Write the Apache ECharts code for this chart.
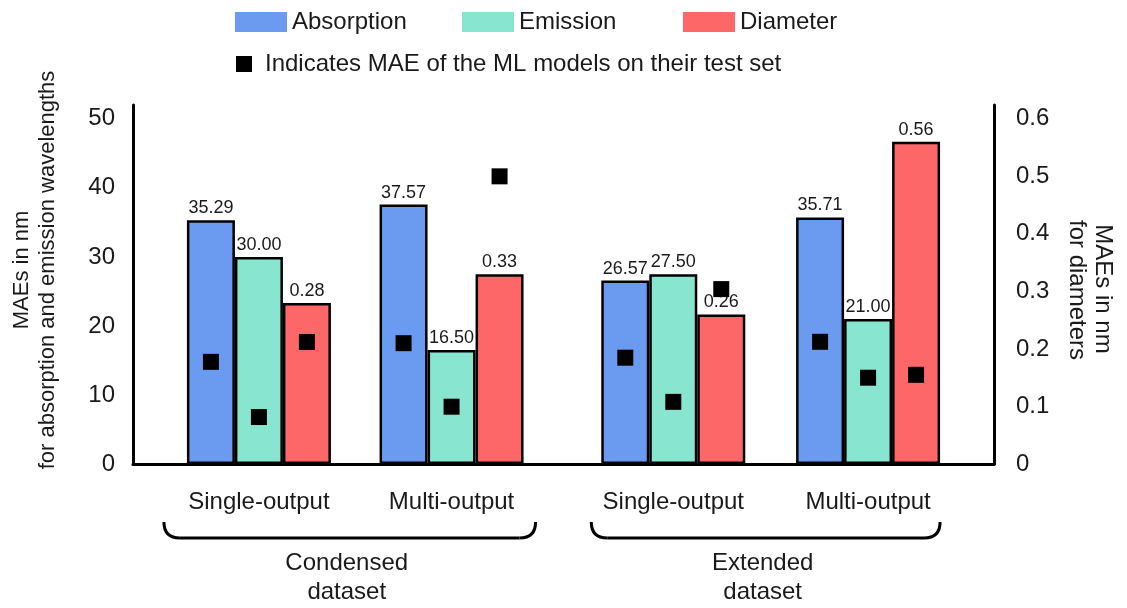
<!DOCTYPE html>
<html>
<head>
<meta charset="utf-8">
<script src="https://cdn.jsdelivr.net/npm/echarts@6/dist/echarts.min.js"></script>
<style>
  html, body { margin: 0; padding: 0; background: #fff; }
  #main { width: 1127px; height: 608px; }
</style>
</head>
<body>
<div id="main"></div>
<script>
// Model output setups (x-axis categories) and the dataset each pair belongs to
const setupNames = ['Single-output', 'Multi-output', 'Single-output', 'Multi-output'];
const datasetNames = ['Condensed\ndataset', 'Extended\ndataset'];
const datasetMembers = [[0, 1], [2, 3]];

// MAEs of the predictions (nm): wavelengths on the left axis, diameters on the right
const absorption = [35.29, 37.57, 26.57, 35.71];
const emission = [30.00, 16.50, 27.50, 21.00];
const diameter = [0.28, 0.33, 0.26, 0.56];

// MAEs of the ML models on their test set
const absorptionTest = [14.8, 17.5, 15.4, 17.7];
const emissionTest = [6.8, 8.3, 9.0, 12.5];
const diameterTest = [0.212, 0.50, 0.304, 0.155];

// Axis tick labels
const leftTicks = [0, 10, 20, 30, 40, 50];
const rightTicks = [0, 0.1, 0.2, 0.3, 0.4, 0.5, 0.6];

// Layout: where each group sits on the 0-4 x scale, bar width in px
const slotPos = [0.585, 1.48, 2.51, 3.415];
const BAR_W = 48;
const TEST_NAME = 'Indicates MAE of the ML models on their test set';

const FONT = '"Liberation Sans", Arial, sans-serif';
const INK = '#1a1a1a';
const COLORS = { Absorption: '#6b9bf0', Emission: '#88e5cf', Diameter: '#fe6767' };

const pairs = vals => vals.map((v, i) => [slotPos[i], v]);

function barSeries(name, vals, yIdx) {
  return {
    name, type: 'bar', yAxisIndex: yIdx,
    data: pairs(vals),
    barWidth: BAR_W, barGap: '0%',
    itemStyle: { color: COLORS[name], borderColor: '#000', borderWidth: 2.5 },
    label: {
      show: true, position: 'top', distance: 3,
      fontSize: 18, color: INK, fontFamily: FONT,
      formatter: p => p.value[1].toFixed(2)
    },
    z: 2
  };
}

function testSeries(vals, yIdx, offset) {
  return {
    name: TEST_NAME, type: 'scatter', yAxisIndex: yIdx,
    data: pairs(vals),
    symbol: 'rect', symbolSize: 16, symbolOffset: [offset, 0],
    itemStyle: { color: '#000', opacity: 1 },
    z: 5
  };
}

const legendBase = {
  icon: 'rect', itemWidth: 52, itemHeight: 20, padding: 0,
  itemStyle: { borderWidth: 0 },
  textStyle: { fontSize: 24, color: INK, fontFamily: FONT }
};

const axisLineStyle = { show: true, lineStyle: { color: '#000', width: 3 } };

const chart = echarts.init(document.getElementById('main'));
chart.setOption({
  animation: false,
  textStyle: { fontFamily: FONT },
  grid: { left: 133, right: 133, top: 105, bottom: 144 },
  legend: [
    Object.assign({}, legendBase, { data: ['Absorption'], left: 235, top: 10 }),
    Object.assign({}, legendBase, { data: ['Emission'], left: 462, top: 10 }),
    Object.assign({}, legendBase, { data: ['Diameter'], left: 683, top: 10 }),
    Object.assign({}, legendBase, {
      data: [TEST_NAME], left: 236, top: 52, itemWidth: 16, itemHeight: 16,
      itemStyle: { borderWidth: 0, opacity: 1 },
      textStyle: { fontSize: 24, color: INK, fontFamily: FONT, padding: [0, 0, 0, 8] }
    })
  ],
  xAxis: {
    type: 'value', min: 0, max: 4,
    axisLine: axisLineStyle,
    axisTick: { show: false },
    splitLine: { show: false },
    axisLabel: {
      customValues: slotPos, margin: 26,
      fontSize: 24, color: INK, fontFamily: FONT,
      formatter: v => setupNames[slotPos.indexOf(v)] || ''
    }
  },
  yAxis: [
    {
      type: 'value', min: 0, max: 52, position: 'left',
      axisLine: axisLineStyle, axisTick: { show: false }, splitLine: { show: false },
      axisLabel: { customValues: leftTicks, margin: 18, fontSize: 24, color: INK, fontFamily: FONT }
    },
    {
      type: 'value', min: 0, max: 0.624, position: 'right',
      axisLine: axisLineStyle, axisTick: { show: false }, splitLine: { show: false },
      axisLabel: {
        customValues: rightTicks, margin: 22, fontSize: 24, color: INK, fontFamily: FONT,
        formatter: v => (v === 0 ? '0' : v.toFixed(1))
      }
    }
  ],
  series: [
    barSeries('Absorption', absorption, 0),
    barSeries('Emission', emission, 0),
    barSeries('Diameter', diameter, 1),
    testSeries(absorptionTest, 0, -BAR_W),
    testSeries(emissionTest, 0, 0),
    testSeries(diameterTest, 1, BAR_W)
  ]
});

// Axis titles, dataset brackets and dataset names
function decorations() {
  const g = [];
  const stroke = { stroke: '#000', lineWidth: 3, fill: null };
  const txt = (x, y, text, rot, size) => ({
    type: 'text', x, y, rotation: rot, silent: true,
    style: { text, fontSize: size, fontFamily: FONT, fill: INK, align: 'center', verticalAlign: 'middle' }
  });
  g.push(txt(22, 270, 'MAEs in nm', Math.PI / 2, 22));
  g.push(txt(48, 270, 'for absorption and emission wavelengths', Math.PI / 2, 22));
  g.push(txt(1103, 289, 'MAEs in nm', -Math.PI / 2, 24));
  g.push(txt(1077, 290, 'for diameters', -Math.PI / 2, 24));

  const pads = [[95, 84], [82, 72]];
  datasetMembers.forEach((idx, k) => {
    const a = chart.convertToPixel({ xAxisIndex: 0 }, slotPos[idx[0]]);
    const b = chart.convertToPixel({ xAxisIndex: 0 }, slotPos[idx[idx.length - 1]]);
    const l = a - pads[k][0], r = b + pads[k][1];
    const top = 522, bot = 538, rad = 16;
    g.push({ type: 'bezierCurve', silent: true, style: stroke,
      shape: { x1: l, y1: top, cpx1: l, cpy1: bot, x2: l + rad, y2: bot } });
    g.push({ type: 'line', silent: true, style: stroke,
      shape: { x1: l + rad, y1: bot, x2: r - rad, y2: bot } });
    g.push({ type: 'bezierCurve', silent: true, style: stroke,
      shape: { x1: r - rad, y1: bot, cpx1: r, cpy1: bot, x2: r, y2: top } });
    const lines = datasetNames[k].split('\n');
    const cx = (l + r) / 2 - 3;
    lines.forEach((t, j) => g.push(txt(cx, 563 + j * 29, t, 0, 24)));
  });
  chart.setOption({ graphic: g });
}
decorations();
</script>
</body>
</html>
